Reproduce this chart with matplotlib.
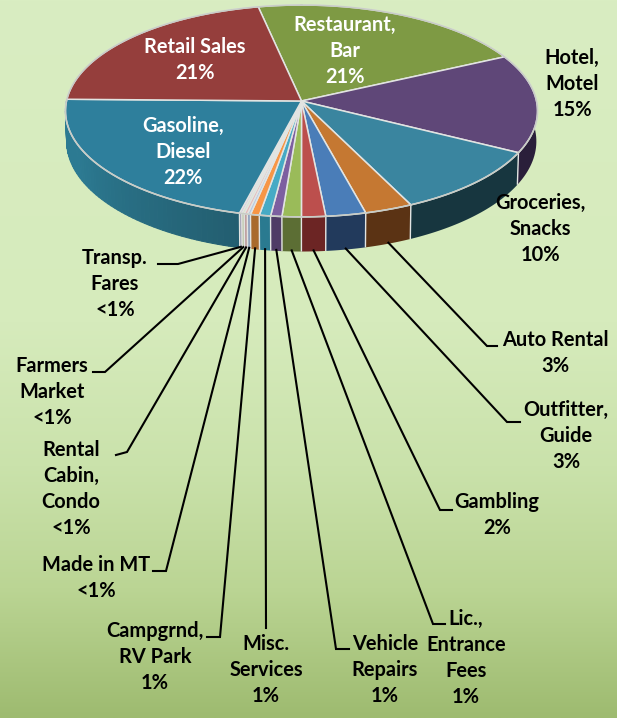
import numpy as np
import matplotlib
matplotlib.use("Agg")
import matplotlib.pyplot as plt
from matplotlib.patches import Polygon
from matplotlib.colors import LinearSegmentedColormap, to_rgb

# ---- data (clockwise, beginning at Restaurant, Bar) ----
categories = ["Restaurant, Bar", "Hotel, Motel", "Groceries, Snacks", "Auto Rental",
              "Outfitter, Guide", "Gambling", "Lic., Entrance Fees", "Vehicle Repairs",
              "Misc. Services", "Campgrnd, RV Park", "Made in MT", "Rental Cabin, Condo",
              "Farmers Market", "Transp. Fares", "Gasoline, Diesel", "Retail Sales"]
values = [21.0, 15.0, 10.2, 3.0, 2.5, 1.5, 1.2, 0.7, 0.7, 0.55, 0.2, 0.2, 0.15, 0.15, 21.4, 21.5]
labels = ["Restaurant,\nBar\n21%", "Hotel,\nMotel\n15%", "Groceries,\nSnacks\n10%", "Auto Rental\n3%",
          "Outfitter,\nGuide\n3%", "Gambling\n2%", "Lic.,\nEntrance\nFees\n1%", "Vehicle\nRepairs\n1%",
          "Misc.\nServices\n1%", "Campgrnd,\nRV Park\n1%", "Made in MT\n<1%", "Rental\nCabin,\nCondo\n<1%",
          "Farmers\nMarket\n<1%", "Transp.\nFares\n<1%", "Gasoline,\nDiesel\n22%", "Retail Sales\n21%"]

# ---- styles ----
top_colors = ["#7E9A44", "#5F4778", "#3A859F", "#C57832", "#4A7DB8", "#BC4F4D", "#9ABB59", "#7D5FA0",
              "#46AAC5", "#F79646", "#B5C9E6", "#E6B9B8", "#D7E4BC", "#CCC0DA", "#2E7F9C", "#953E3C"]
side_colors = ["#4A5C28", "#2A1F3A", "#17363F", "#5B3314", "#223A5C", "#6C2524", "#5C6E34", "#4F3B66",
               "#2A7A90", "#A96A2C", "#8FA3BF", "#BFA0A0", "#B4C09C", "#A89EB6", "#235E70", "#5A2524"]
gas_side_far = "#2C7A92"
label_pos = [(345, 50), (572, 83), (540, 228), (555, 352), (566, 435), (497, 514), (466, 657), (385, 669),
             (266, 669), (155, 656), (96, 577), (71, 488), (52, 391), (115, 283), (183, 151), (195, 59)]
label_col = ["white", "black", "black", "black", "black", "black", "black", "black", "black", "black",
             "black", "black", "black", "black", "white", "white"]
# leader routes: label end, then elbow; the tip comes from the slice mid-angle
leaders = {3: [(497, 346), (487, 346)], 4: [(520, 422), (507, 422)], 5: [(452, 510), (440, 510)],
           6: [(445, 624), (433, 624)], 7: [(349, 649), (336, 649)], 8: [(266, 628)],
           9: [(207, 637), (220, 637)], 10: [(153, 571), (166, 571)], 11: [(116, 455), (127, 452)],
           12: [(93, 372), (105, 372)], 13: [(158, 264), (178, 264)]}

W, H = 624, 718
PANEL_W = 617
CX, AY, RX, RY, K = 301.5, 101.0, 235.0, 105.0, 0.094
DEPTH, START = 30.0, -11.6
FONT = "Lato"
FS = 14.4


def top_pt(phi):
    """Perspective projection of a unit-circle point; phi in degrees clockwise from 12 o'clock."""
    p = np.radians(phi)
    u, v = np.sin(p), -np.cos(p)
    s = 1.0 / (1.0 - K * v)
    return CX + RX * u * s, AY + RY * v * s


def bot_pt(phi):
    x, y = top_pt(phi)
    return CX + (x - CX) * 0.995, AY + DEPTH + (y - AY) * 1.04


fig = plt.figure(figsize=(W / 100, H / 100), dpi=100, facecolor="white")
ax = fig.add_axes([0, 0, 1, 1])

cmap = LinearSegmentedColormap.from_list("bg", [(0, "#D9EDC2"), (0.45, "#D6EBBC"), (0.65, "#CAE2AB"),
                                                (0.82, "#BBD594"), (1, "#9EBB70")])
ax.imshow(np.linspace(0, 1, 256)[:, None], cmap=cmap, extent=(0, PANEL_W, H, 0), aspect="auto", zorder=0)
ax.set_xlim(0, W)
ax.set_ylim(H, 0)
ax.axis("off")

vals = np.array(values, dtype=float)
edges = START + np.concatenate([[0], np.cumsum(vals)]) / vals.sum() * 360.0
EDGE = "#E2E4E2"

# sides
for i in range(len(vals)):
    a, b = edges[i], edges[i + 1]
    if i == categories.index("Gasoline, Diesel"):
        steps = np.linspace(a, b, 61)
        c0, c1 = np.array(to_rgb(side_colors[i])), np.array(to_rgb(gas_side_far))
        for j in range(60):
            t = min(1.0, j / 40)
            c = tuple(c0 + (c1 - c0) * t)
            ph = np.array([steps[j], steps[j + 1]])
            pts = [top_pt(p) for p in ph] + [bot_pt(p) for p in ph[::-1]]
            ax.add_patch(Polygon(pts, closed=True, facecolor=c, edgecolor=c, lw=0.8, zorder=2))
    else:
        ph = np.linspace(a, b, 40)
        pts = [top_pt(p) for p in ph] + [bot_pt(p) for p in ph[::-1]]
        ax.add_patch(Polygon(pts, closed=True, facecolor=side_colors[i], edgecolor="none", zorder=2))
    if 90 < a < 270:
        x0, y0 = top_pt(a)
        x1, y1 = bot_pt(a)
        ax.plot([x0, x1], [y0, y1], color=EDGE, lw=1.0, zorder=3, solid_capstyle="butt")

# tops
for i in range(len(vals)):
    ph = np.linspace(edges[i], edges[i + 1], 80)
    pts = [(CX, AY)] + [top_pt(p) for p in ph]
    ax.add_patch(Polygon(pts, closed=True, facecolor=top_colors[i], edgecolor=EDGE, lw=1.1,
                         joinstyle="round", zorder=4))
rim = np.array([top_pt(p) for p in np.linspace(0, 360, 361)])
ax.plot(rim[:, 0], rim[:, 1], color="#C8CCC6", lw=1.1, zorder=5)

# leaders
for i, route in leaders.items():
    tip = bot_pt((edges[i] + edges[i + 1]) / 2)
    xs = [p[0] for p in route] + [tip[0]]
    ys = [p[1] for p in route] + [tip[1] - 1]
    ax.plot(xs, ys, color="black", lw=1.5, zorder=6, solid_joinstyle="miter")

# labels
for txt, (x, y), c in zip(labels, label_pos, label_col):
    ax.text(x, y + 1, txt, ha="center", va="center", color=c, fontsize=FS, fontfamily=FONT,
            fontweight="bold", linespacing=1.38, zorder=7)

fig.savefig("out.png", dpi=100, facecolor="white")
